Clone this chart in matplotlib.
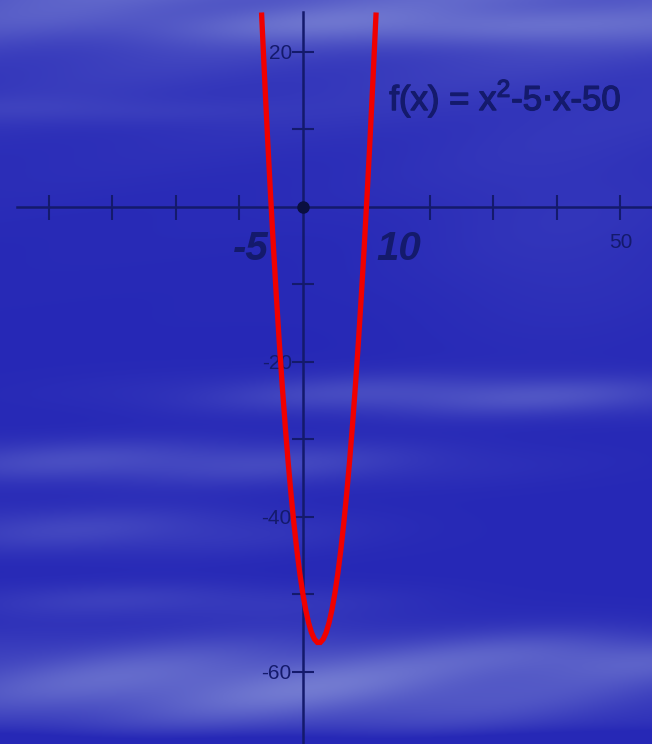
import numpy as np
import matplotlib
matplotlib.use("Agg")
import matplotlib.pyplot as plt
import matplotlib.patheffects as pe

plt.rcParams['font.family'] = ['Liberation Sans', 'DejaVu Sans']

# f(x) = x^2 - 5x - 50
coeffs = [1, -5, -50]
x_min, x_max = -6.5, 11.5
x_ticks = [-40, -30, -20, -10, 10, 20, 30, 40, 50]
x_tick_labels = ['', '', '', '', '', '', '', '', '50']
y_ticks = [-60, -50, -40, -30, -20, -10, 10, 20]
y_tick_labels = ['-60', '', '-40', '', '-20', '', '', '20']
root_labels = ['-5', '10']
root_x = [-5, 10]

navy = '#141a6c'

W, H = 652, 744
fig = plt.figure(figsize=(W / 100, H / 100), dpi=100)

# background: blue sky with soft cloud streaks
yy, xx = np.mgrid[0:H, 0:W].astype(float)
w = 0.42 * np.exp(-yy / 80.0) * (0.85 + 0.15 * np.sin(xx / 55.0 + yy / 14.0))
bands = [
    (25, 20, 0.30, 450, 350),
    (110, 14, 0.10, 80, 180),
    (395, 20, 0.34, 470, 260),
    (462, 22, 0.30, 150, 280),
    (530, 24, 0.22, 90, 220),
    (600, 18, 0.16, 150, 220),
    (685, 45, 0.60, 260, 380),
    (655, 24, 0.32, 610, 170),
]
for y0, sy, amp, x0, sx in bands:
    mod = 0.88 + 0.12 * np.sin(xx / 45.0 + yy / 12.0)
    w += amp * np.exp(-((yy - y0) / sy) ** 2) * np.exp(-((xx - x0) / sx) ** 2) * mod
w += 0.07 * np.exp(-((xx - 560) / 150) ** 2) * np.exp(-((yy - 230) / 120) ** 2)
w -= 0.15 * np.exp(-((yy - 744) / 15) ** 2)
w = np.clip(w, 0, 1)
base = np.array([38, 40, 182]) / 255.0
light = np.array([168, 180, 228]) / 255.0
img = base[None, None, :] * (1 - w[..., None]) + light[None, None, :] * w[..., None]

bg = fig.add_axes([0, 0, 1, 1])
bg.imshow(img, aspect='auto', extent=[0, 1, 0, 1])
bg.axis('off')

ax = fig.add_axes([0, 0, 1, 1])
ax.patch.set_alpha(0)
ax.set_xlim(-47.7, 54.96)
ax.set_ylim(-69.3, 26.7)

for s in ['top', 'right']:
    ax.spines[s].set_visible(False)
ax.spines['left'].set_position(('data', 0))
ax.spines['bottom'].set_position(('data', 0))
ax.spines['left'].set_bounds(-70, 25.2)
ax.spines['bottom'].set_bounds(-45, 56)
for s in ['left', 'bottom']:
    ax.spines[s].set_color(navy)
    ax.spines[s].set_linewidth(1.8)

ax.set_xticks(x_ticks, x_tick_labels)
ax.set_yticks(y_ticks, y_tick_labels)
ax.tick_params(axis='x', direction='inout', length=18, width=1.5, color=navy,
               labelcolor=navy, labelsize=15, pad=10)
ax.tick_params(axis='y', direction='inout', length=16, width=1.5, color=navy,
               labelcolor=navy, labelsize=15, pad=0)

x = np.linspace(x_min, x_max, 40)
ax.plot(x, np.polyval(coeffs, x), color='#f00000', lw=3.8, solid_joinstyle='miter', zorder=3)
ax.plot([0], [0], 'o', color='#0a0f40', ms=8, zorder=4)

for rx, lab in zip(root_x, root_labels):
    ax.text(rx + (-6.0 if rx < 0 else 1.6), -3.0, lab, color=navy, fontsize=29,
            fontweight='bold', fontstyle='italic', ha='left', va='top')

ax.text(13.6, 14.0, r'f(x) = x$^\mathregular{2}$-5$\cdot$x-50', color=navy, fontsize=25,
        ha='left', va='center',
        path_effects=[pe.withStroke(linewidth=1.0, foreground=navy)])

fig.savefig('out.png', dpi=100)
